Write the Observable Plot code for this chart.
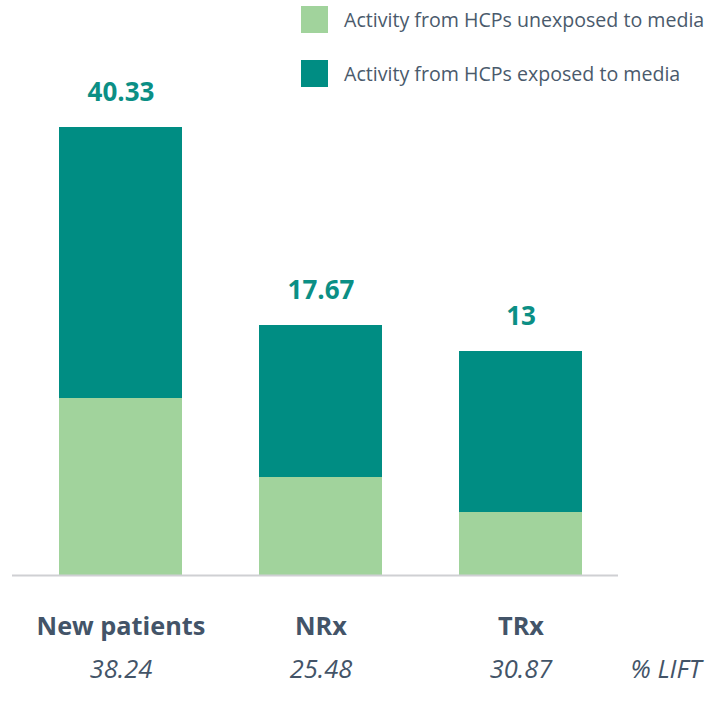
<!DOCTYPE html>
<html>
<head>
<meta charset="utf-8">
<script src="https://cdn.jsdelivr.net/npm/d3@7"></script>
<script src="https://cdn.jsdelivr.net/npm/@observablehq/plot@0.6"></script>
<style>
  html, body { margin: 0; padding: 0; background: #fff; }
  #wrap { position: relative; width: 721px; height: 711px; font-family: "Open Sans", sans-serif; }
  #legend { position: absolute; left: 301px; top: 6px; }
  .item { display: flex; align-items: center; height: 27px; margin-bottom: 27px; font-size: 19.6px; color: #4a5a6c; white-space: nowrap; }
  .sw { width: 27px; height: 27px; margin-right: 16px; flex: none; }
  #chart { position: absolute; left: 0; top: 0; }
</style>
</head>
<body>
<div id="wrap">
  <div id="chart"></div>
  <div id="legend"></div>
</div>
<script>
const categories = ["New patients", "NRx", "TRx"];
const unexposed = [17.7, 9.8, 6.3];
const exposed = [27.1, 15.2, 16.1];
const totalLabels = ["40.33", "17.67", "13"];
const liftLabels = ["38.24", "25.48", "30.87"];
const seriesNames = ["Activity from HCPs unexposed to media", "Activity from HCPs exposed to media"];
const colors = ["#a1d39c", "#008d83"];

const rows = [];
categories.forEach((c, i) => {
  rows.push({cat: c, series: seriesNames[0], value: unexposed[i]});
  rows.push({cat: c, series: seriesNames[1], value: exposed[i]});
});
const totals = categories.map((c, i) => ({cat: c, total: unexposed[i] + exposed[i], label: totalLabels[i], lift: liftLabels[i]}));

const chart = Plot.plot({
  width: 721,
  height: 711,
  marginLeft: 12,
  marginRight: 103,
  marginTop: 0,
  marginBottom: 0,
  style: {fontFamily: "Open Sans, sans-serif", background: "#fff"},
  x: {domain: categories, range: [17, 623], paddingInner: 0.385, paddingOuter: 0.2, axis: null},
  y: {domain: [0, 50], range: [575, 75], axis: null},
  color: {domain: seriesNames, range: colors},
  marks: [
    Plot.barY(rows, {x: "cat", y: "value", fill: "series", order: seriesNames}),
    Plot.ruleY([0], {stroke: "#cfd0d3", strokeWidth: 2}),
    Plot.text(totals, {x: "cat", y: "total", text: "label", dy: -35, fill: "#0b8f85", fontSize: 26, fontWeight: "bold"}),
    Plot.text(totals, {x: "cat", y: 0, text: "cat", dy: 51, fill: "#435468", fontSize: 25.3, fontWeight: "bold"}),
    Plot.text(totals, {x: "cat", y: 0, text: "lift", dy: 94, fill: "#435468", fontSize: 25.5, fontStyle: "italic"}),
    Plot.text(["% LIFT"], {frameAnchor: "right", y: 0, text: d => d, dy: 94, dx: 12, textAnchor: "start", fill: "#435468", fontSize: 25.5, fontStyle: "italic"})
  ]
});
document.getElementById("chart").appendChild(chart);

const legend = document.getElementById("legend");
seriesNames.forEach((s, i) => {
  const item = document.createElement("div");
  item.className = "item";
  const sw = document.createElement("div");
  sw.className = "sw";
  sw.style.background = colors[i];
  const t = document.createElement("span");
  t.textContent = s;
  item.appendChild(sw);
  item.appendChild(t);
  legend.appendChild(item);
});
</script>
</body>
</html>
